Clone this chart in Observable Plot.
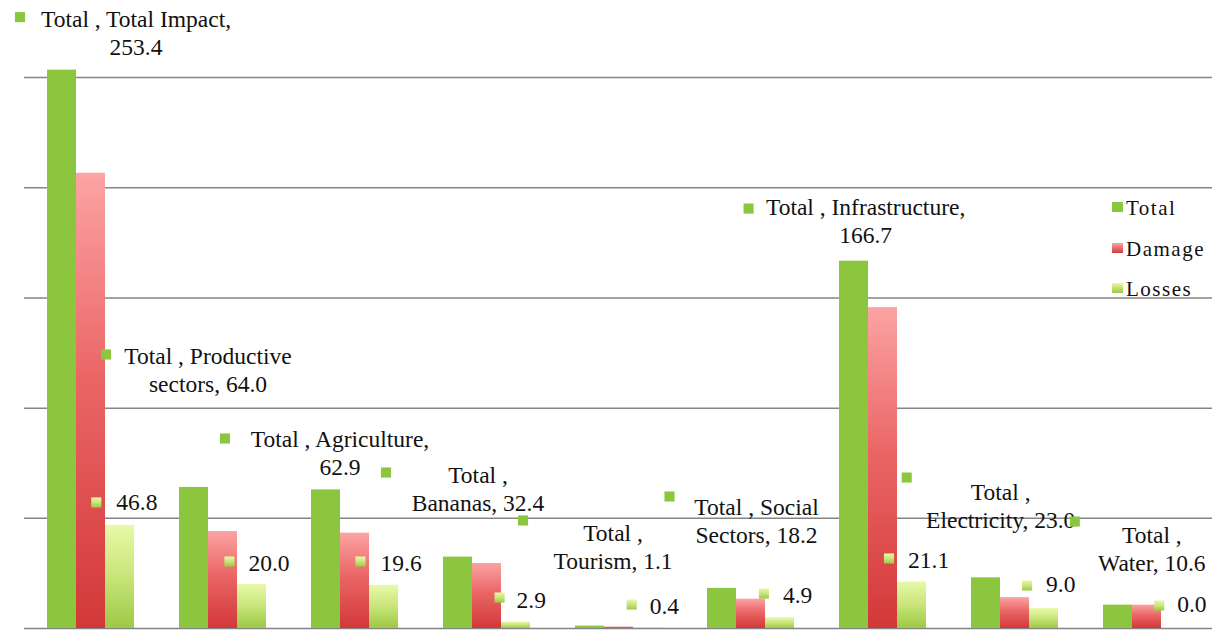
<!DOCTYPE html>
<html><head><meta charset="utf-8">
<script src="https://cdn.jsdelivr.net/npm/d3@7"></script>
<script src="https://cdn.jsdelivr.net/npm/@observablehq/plot@0.6"></script>
<style>
body{margin:0;background:#fff;}
#wrap{position:relative;width:1216px;height:632px;overflow:hidden}
#chart svg text{font-family:"Liberation Serif","Times New Roman",serif;}
#legend{position:absolute;left:1112px;top:198px;font-family:"Liberation Serif","Times New Roman",serif;font-size:21px;line-height:21px;color:#111;letter-spacing:1.5px}
#legend .row{height:21px;margin-bottom:19.5px;white-space:nowrap}
#legend .k{display:inline-block;width:11px;height:10px;vertical-align:3px;margin-right:3px}
</style></head><body>
<div id="wrap"><div id="chart"></div><div id="legend"></div></div>
<script>
// ---- data ----
const categories = ["Total Impact","Productive sectors","Agriculture","Bananas","Tourism","Social Sectors","Infrastructure","Electricity","Water"];
const totalValues  = [253.4, 64.0, 62.9, 32.4, 1.1, 18.2, 166.7, 23.0, 10.6];
const damageValues = [206.6, 44.0, 43.3, 29.5, 0.7, 13.3, 145.6, 14.0, 10.6];
const lossValues   = [46.8, 20.0, 19.6, 2.9, 0.4, 4.9, 21.1, 9.0, 0.0];
const seriesNames = ["Total","Damage","Losses"];
const gridTicks = [0, 50, 100, 150, 200, 250];

// ---- label layout (pixel offsets from the top of each bar) ----
const totalLabelWrap = [4, 3, 3, 2, 2, 3, 3, 2, 2];
const totalLabelText = [[74,-14.9],[14,-95.4],[14,-14.8],[20,-46],[23,-57],[34.5,-45.3],[11.6,-18],[14.7,-49.7],[33.8,-34]];
const totalLabelKey  = [[-42,-53],[-88,-133],[-101,-51.4],[-72,-84.6],[-67,-105.6],[-52.5,-91.9],[-105.4,-52.6],[-79.3,-100.3],[-43.2,-83.6]];
const lossLabelText  = [[-3.7,-14.9],[-3.6,-13.9],[-3.5,-14.8],[0.6,-14.6],[1.7,-14.1],[2.9,-15.2],[-4,-14.5],[2.1,-16.2],[1.2,-17]];
const lossLabelKey   = [[-23.7,-22.9],[-22.6,-22.9],[-23.5,-23.8],[-16.4,-24.6],[-16.3,-23.1],[-16.1,-24.2],[-23,-23.5],[-16.9,-23.2],[-16.8,-23]];

// ---- styles ----
const GREEN = "#8cc63f";
const FONT = "'Liberation Serif', 'Times New Roman', serif";
const TEXT = "#111";
const FS = 23.5;

const rows = categories.flatMap((c, i) => [
  {category: c, series: "Total", value: totalValues[i]},
  {category: c, series: "Damage", value: damageValues[i]},
  {category: c, series: "Losses", value: lossValues[i]}
]);

function totalLabel(i) {
  const tokens = `Total , ${categories[i]}, ${totalValues[i].toFixed(1)}`.split(" ");
  const k = totalLabelWrap[i];
  return tokens.slice(0, k).join(" ") + "\n" + tokens.slice(k).join(" ");
}

const labelMarks = categories.flatMap((c, i) => {
  const t = [{category: c, series: "Total", value: totalValues[i], label: totalLabel(i)}];
  const l = [{category: c, series: "Losses", value: lossValues[i], label: lossValues[i].toFixed(1)}];
  return [
    Plot.dot(t, {fx: "category", x: "series", y: "value", dx: totalLabelKey[i][0], dy: totalLabelKey[i][1], symbol: "square", r: 5.7, fill: GREEN}),
    Plot.text(t, {fx: "category", x: "series", y: "value", text: "label", dx: totalLabelText[i][0], dy: totalLabelText[i][1],
      lineAnchor: "bottom", lineHeight: 1.18, fontSize: FS, fontFamily: FONT, fill: TEXT}),
    Plot.dot(l, {fx: "category", x: "series", y: "value", dx: lossLabelKey[i][0], dy: lossLabelKey[i][1], symbol: "square", r: 5.7, fill: "url(#gLoss)"}),
    Plot.text(l, {fx: "category", x: "series", y: "value", text: "label", dx: lossLabelText[i][0], dy: lossLabelText[i][1],
      lineAnchor: "bottom", textAnchor: "start", fontSize: FS, fontFamily: FONT, fill: TEXT})
  ];
});

const chart = Plot.plot({
  width: 1216, height: 632,
  marginLeft: 20, marginRight: 0, marginTop: 11, marginBottom: 4,
  style: {fontFamily: FONT, background: "#fff"},
  fx: {domain: categories, padding: 0, axis: null},
  x: {domain: seriesNames, paddingInner: 0, paddingOuter: 0.768, axis: null},
  y: {domain: [0, 280], axis: null},
  marks: [
    Plot.ruleY(gridTicks, {stroke: "#858585", strokeWidth: 1.5}),
    Plot.barY(rows.filter(d => d.series === "Total"), {fx: "category", x: "series", y: "value", fill: GREEN}),
    Plot.barY(rows.filter(d => d.series === "Damage"), {fx: "category", x: "series", y: "value", fill: "url(#gDamage)"}),
    Plot.barY(rows.filter(d => d.series === "Losses"), {fx: "category", x: "series", y: "value", fill: "url(#gLoss)"}),
    ...labelMarks
  ]
});

const defs = d3.select(chart).insert("defs", ":first-child");
function grad(id, stops) {
  const g = defs.append("linearGradient").attr("id", id).attr("x1", 0).attr("y1", 0).attr("x2", 0).attr("y2", 1);
  stops.forEach(([o, c]) => g.append("stop").attr("offset", o).attr("stop-color", c));
}
grad("gDamage", [[0, "#fca3a3"], [0.45, "#ea6666"], [1, "#d33838"]]);
grad("gLoss", [[0, "#e8f9a8"], [0.5, "#c8e57a"], [1, "#9dc844"]]);

document.getElementById("chart").append(chart);

const legendColors = {
  Total: GREEN,
  Damage: "linear-gradient(#fca3a3, #d33838)",
  Losses: "linear-gradient(#e8f9a8, #9dc844)"
};
const legend = d3.select("#legend");
seriesNames.forEach(s => {
  const r = legend.append("div").attr("class", "row");
  r.append("span").attr("class", "k").style("background", legendColors[s]);
  r.append("span").text(s);
});
</script>
</body></html>
